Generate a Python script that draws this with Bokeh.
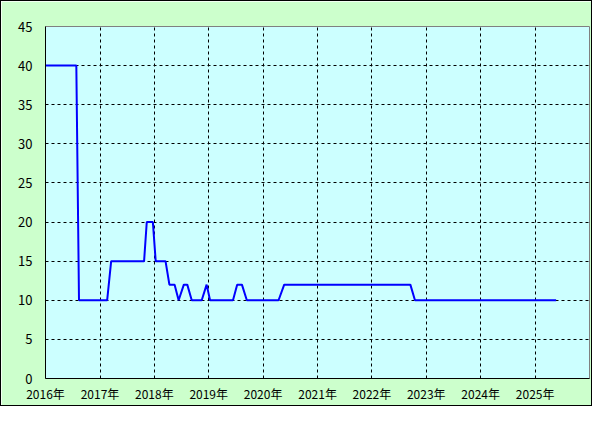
import pandas as pd
from datetime import datetime
from bokeh.plotting import figure
from bokeh.models import Range1d, FixedTicker, DatetimeTickFormatter, ColumnDataSource
from bokeh.embed import file_html
from bokeh.resources import INLINE

# Data
dates = ["2016-01-01", "2016-07-26", "2016-08-13", "2017-02-18", "2017-03-17",
         "2017-10-24", "2017-11-11", "2017-12-22", "2018-01-10", "2018-03-17",
         "2018-04-12", "2018-05-17", "2018-06-13", "2018-07-18", "2018-08-10",
         "2018-09-09", "2018-11-15", "2018-12-18", "2019-01-10", "2019-06-13",
         "2019-07-11", "2019-08-12", "2019-09-14", "2020-04-14", "2020-05-22",
         "2022-09-16", "2022-10-17", "2025-05-22"]
values = [40, 40, 10, 10, 15,
          15, 20, 20, 15, 15,
          12, 12, 10, 12, 12,
          10, 10, 12, 10, 10,
          12, 12, 10, 10, 12,
          12, 10, 10]
tick_years = [2016, 2017, 2018, 2019, 2020, 2021, 2022, 2023, 2024, 2025]
y_ticks = [0, 5, 10, 15, 20, 25, 30, 35, 40, 45]

src = ColumnDataSource(dict(x=pd.to_datetime(dates), y=values))

p = figure(width=592, height=406, output_backend="svg", toolbar_location=None,
           x_axis_type="datetime",
           x_range=Range1d(datetime(2016, 1, 1), datetime(2026, 1, 1)),
           y_range=Range1d(0, 45),
           min_border_left=44, min_border_right=4, min_border_top=25, min_border_bottom=29,
           background_fill_color="#CCFFFF", border_fill_color="#CCFFCC",
           styles={"border": "1px solid black"})

p.line("x", "y", source=src, line_color="#0000FF", line_width=2)

tick_ms = [pd.Timestamp(f"{y}-01-01").value // 10**6 for y in tick_years]
p.xaxis.ticker = FixedTicker(ticks=tick_ms)
fmt = "%Y年"
p.xaxis.formatter = DatetimeTickFormatter(years=fmt, months=fmt, days=fmt, hours=fmt,
                                          minutes=fmt, seconds=fmt, milliseconds=fmt,
                                          microseconds=fmt, hourmin=fmt, minsec=fmt)
p.yaxis.ticker = FixedTicker(ticks=y_ticks)

for ax in (p.xaxis[0], p.yaxis[0]):
    ax.axis_line_color = "black"
    ax.axis_line_width = 1
    ax.major_tick_line_color = None
    ax.minor_tick_line_color = None
    ax.major_tick_in = 0
    ax.major_tick_out = 0
    ax.minor_tick_in = 0
    ax.minor_tick_out = 0
    ax.major_label_text_color = "black"
    ax.major_label_text_font = "Noto Sans CJK JP"
    ax.major_label_text_font_size = "12px"
p.yaxis.major_label_text_font_size = "13px"
p.yaxis.major_label_standoff = 13
p.xaxis.major_label_standoff = 6

for g in (p.xgrid[0], p.ygrid[0]):
    g.grid_line_color = "black"
    g.grid_line_dash = "3 3"
    g.grid_line_width = 1

p.outline_line_color = "#808080"
p.outline_line_width = 1

open("out.html", "w").write(file_html(p, INLINE))
